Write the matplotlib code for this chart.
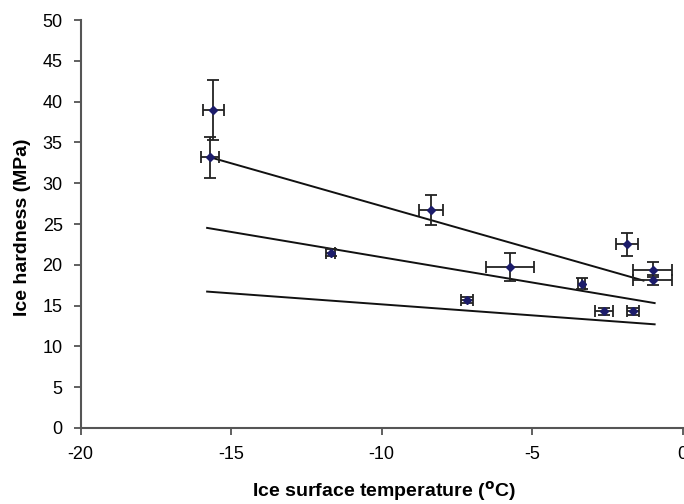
import matplotlib
matplotlib.use("Agg")
import matplotlib.pyplot as plt
import numpy as np

plt.rcParams['font.family'] = ['Liberation Sans', 'DejaVu Sans']

# Series A (upper, large error bars)
a_x = [-15.6, -15.7, -8.35, -1.85, -1.0]
a_y = [39.0, 33.2, 26.7, 22.5, 19.4]
a_xerr = [0.35, 0.3, 0.4, 0.37, 0.65]
a_yerr = [3.7, 2.5, 1.8, 1.4, 0.9]

# Series B (middle)
b_x = [-11.7, -5.75, -3.35, -1.0]
b_y = [21.5, 19.7, 17.7, 18.1]
b_xerr = [0.15, 0.8, 0.12, 0.65]
b_yerr = [0.4, 1.7, 0.7, 0.6]

# Series C (lower)
c_x = [-7.15, -2.6, -1.65]
c_y = [15.7, 14.3, 14.3]
c_xerr = [0.2, 0.3, 0.2]
c_yerr = [0.4, 0.4, 0.4]

# Trend lines: (x start, x end, slope, intercept)
trend_x0 = [-15.6, -15.8, -15.8]
trend_x1 = [-1.3, -0.93, -0.93]
trend_slope = [-1.05, -0.62, -0.27]
trend_icept = [16.7, 14.73, 12.45]

x_ticks = [-20, -15, -10, -5, 0]
y_ticks = [0, 5, 10, 15, 20, 25, 30, 35, 40, 45, 50]

fig = plt.figure(figsize=(6.84, 5.04), dpi=100)
ax = fig.add_axes([0.118, 0.151, 0.880, 0.809])

for xs, ys, xe, ye in [(a_x, a_y, a_xerr, a_yerr), (b_x, b_y, b_xerr, b_yerr), (c_x, c_y, c_xerr, c_yerr)]:
    ax.errorbar(xs, ys, xerr=xe, yerr=ye, fmt='D', color='#1c1c6a', markersize=4,
                ecolor='#222222', elinewidth=1.3, capsize=4, capthick=1.3, zorder=3)

for x0, x1, m, c in zip(trend_x0, trend_x1, trend_slope, trend_icept):
    xx = np.array([x0, x1])
    ax.plot(xx, m * xx + c, color='#111111', lw=1.4, zorder=2)

ax.set_xlim(-20, 0)
ax.set_ylim(0, 50)
ax.set_xticks(x_ticks)
ax.set_yticks(y_ticks)
ax.set_xticklabels([str(v) for v in x_ticks])
ax.tick_params(axis='both', labelsize=13, direction='out', length=5, width=1.2, color='#444444')
ax.tick_params(axis='x', pad=8)
ax.tick_params(axis='y', pad=8)
for s in ['top', 'right']:
    ax.spines[s].set_visible(False)
for s in ['left', 'bottom']:
    ax.spines[s].set_color('#555555')
    ax.spines[s].set_linewidth(1.5)

ax.set_xlabel('Ice surface temperature ($^{\\mathbf{o}}$C)', fontsize=14, fontweight='bold')
ax.set_ylabel('Ice hardness (MPa)', fontsize=14, fontweight='bold')
ax.xaxis.set_label_coords((384 - 81) / 602, -(479 - 428) / 408)
ax.yaxis.set_label_coords(-(81 - 31) / 602, (428 - 227) / 408)

fig.savefig('out.png', dpi=100)
